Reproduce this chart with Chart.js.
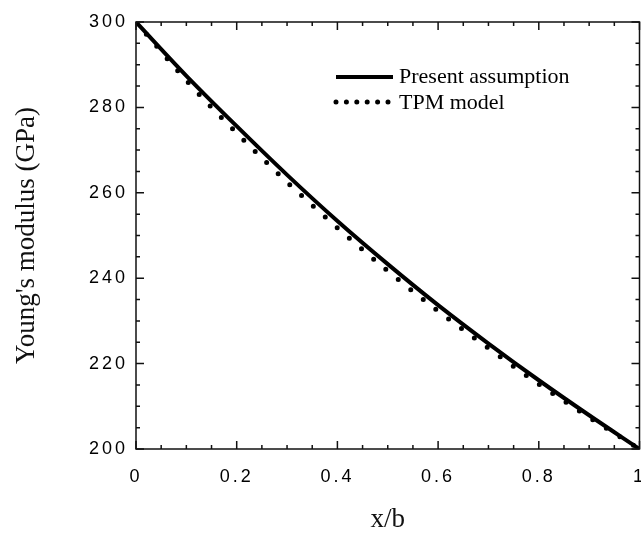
<!DOCTYPE html>
<html><head><meta charset="utf-8">
<script src="https://cdn.jsdelivr.net/npm/chart.js@4.4.1/dist/chart.umd.min.js"></script>
<style>html,body{margin:0;padding:0;background:#fff;}</style>
</head><body>
<canvas id="c" width="641" height="536"></canvas>
<script>
// ---- data ----
const xValues = [0, 0.1, 0.2, 0.3, 0.4, 0.5, 0.6, 0.7, 0.8, 0.9, 1.0];
const presentAssumption = [300, 287.4, 275.6, 264.2, 253.4, 243.3, 233.7, 224.7, 216.1, 207.9, 200];
const tpmModel = [300, 286.3, 274.0, 262.5, 251.8, 241.7, 232.3, 223.6, 215.2, 207.4, 200];
const seriesNames = ['Present assumption', 'TPM model'];
const xTicks = [0, 0.2, 0.4, 0.6, 0.8, 1];
const xTickLabels = ['0', '0.2', '0.4', '0.6', '0.8', '1'];
const yTicks = [200, 220, 240, 260, 280, 300];
const yTickLabels = ['200', '220', '240', '260', '280', '300'];
const xTitle = 'x/b';
const yTitle = "Young's modulus (GPa)";

const toPoints = (ys) => ys.map((y, i) => ({x: xValues[i], y}));

const frameTicks = {
  id: 'frameTicks',
  beforeDraw(chart) { chart.ctx.letterSpacing = '0px'; },
  afterDatasetsDraw(chart) {
    const ctx = chart.ctx, a = chart.chartArea;
    const xs = chart.scales.x, ys = chart.scales.y;
    ctx.save();
    ctx.strokeStyle = '#111';
    ctx.lineWidth = 1.5;
    ctx.strokeRect(a.left, a.top, a.right - a.left, a.bottom - a.top);
    ctx.beginPath();
    for (let i = 0; i <= 20; i++) {
      const v = xs.min + (xs.max - xs.min) * i / 20;
      const p = xs.getPixelForValue(v);
      const L = (i % 4 === 0) ? 8 : 4;
      ctx.moveTo(p, a.bottom); ctx.lineTo(p, a.bottom - L);
      ctx.moveTo(p, a.top); ctx.lineTo(p, a.top + L);
    }
    for (let i = 0; i <= 20; i++) {
      const v = ys.min + (ys.max - ys.min) * i / 20;
      const p = ys.getPixelForValue(v);
      const L = (i % 4 === 0) ? 8 : 4;
      ctx.moveTo(a.left, p); ctx.lineTo(a.left + L, p);
      ctx.moveTo(a.right, p); ctx.lineTo(a.right - L, p);
    }
    ctx.stroke();
    ctx.restore();
    // tick labels (z:1 layer) drawn next with spaced digits
    ctx.letterSpacing = '3px';
  },
  afterDraw(chart) {
    const ctx = chart.ctx;
    ctx.letterSpacing = '0px';
    ctx.save();
    const ds = chart.data.datasets;
    const x0 = 336, x1 = 393, tx = 399;
    const rows = [77, 102];
    ctx.strokeStyle = '#000';
    ctx.lineWidth = ds[0].borderWidth;
    ctx.setLineDash([]);
    ctx.beginPath(); ctx.moveTo(x0, rows[0]); ctx.lineTo(x1, rows[0]); ctx.stroke();
    ctx.lineWidth = ds[1].borderWidth;
    ctx.lineCap = 'round';
    ctx.setLineDash([0, 10.4]);
    ctx.beginPath(); ctx.moveTo(x0, rows[1]); ctx.lineTo(x1 - 3, rows[1]); ctx.stroke();
    ctx.setLineDash([]);
    ctx.fillStyle = '#000';
    ctx.font = '22px "Liberation Serif", "Times New Roman", serif';
    ctx.textBaseline = 'middle';
    ctx.textAlign = 'left';
    ctx.fillText(ds[0].label, tx, rows[0]);
    ctx.fillText(ds[1].label, tx, rows[1] + 1);
    ctx.restore();
  }
};

new Chart(document.getElementById('c'), {
  type: 'line',
  data: {
    datasets: [
      {
        label: seriesNames[0],
        data: toPoints(presentAssumption),
        borderColor: '#000',
        borderWidth: 4,
        pointRadius: 0,
        cubicInterpolationMode: 'monotone',
        fill: false
      },
      {
        label: seriesNames[1],
        data: toPoints(tpmModel),
        borderColor: '#000',
        borderWidth: 5,
        borderDash: [0, 16],
        borderCapStyle: 'round',
        pointRadius: 0,
        cubicInterpolationMode: 'monotone',
        fill: false
      }
    ]
  },
  options: {
    responsive: false,
    animation: false,
    devicePixelRatio: 1,
    layout: {autoPadding: false, padding: {top: 22, right: 1.5, bottom: 0, left: 0}},
    plugins: {legend: {display: false}, tooltip: {enabled: false}},
    scales: {
      x: {
        type: 'linear', min: 0, max: 1,
        afterBuildTicks: (s) => { s.ticks = xTicks.map(v => ({value: v})); },
        afterFit: (s) => { s.height = 87; s.paddingLeft = 0; s.paddingRight = 0; },
        grid: {display: false, drawTicks: false},
        border: {display: false},
        ticks: {
          z: 1,
          padding: 17,
          color: '#000',
          font: {family: '"Liberation Sans", Arial, sans-serif', size: 18},
          maxRotation: 0,
          callback: (v) => { const i = xTicks.findIndex(t => Math.abs(t - v) < 1e-9); return i >= 0 ? xTickLabels[i] : ''; }
        },
        title: {
          display: true, text: xTitle, color: '#111',
          font: {family: '"Liberation Serif", "Times New Roman", serif', size: 27},
          padding: {top: 0, bottom: 0}
        }
      },
      y: {
        type: 'linear', min: 200, max: 300,
        afterBuildTicks: (s) => { s.ticks = yTicks.map(v => ({value: v})); },
        afterFit: (s) => { s.width = 136; s.paddingTop = 0; s.paddingBottom = 0; },
        grid: {display: false, drawTicks: false},
        border: {display: false},
        ticks: {
          z: 1,
          padding: 8,
          color: '#000',
          font: {family: '"Liberation Sans", Arial, sans-serif', size: 18},
          callback: (v) => { const i = yTicks.indexOf(v); return i >= 0 ? yTickLabels[i] : ''; }
        },
        title: {
          display: true, text: yTitle, color: '#111',
          font: {family: '"Liberation Serif", "Times New Roman", serif', size: 27},
          padding: {top: 11, bottom: 0}
        }
      }
    }
  },
  plugins: [frameTicks]
});
</script>
</body></html>
